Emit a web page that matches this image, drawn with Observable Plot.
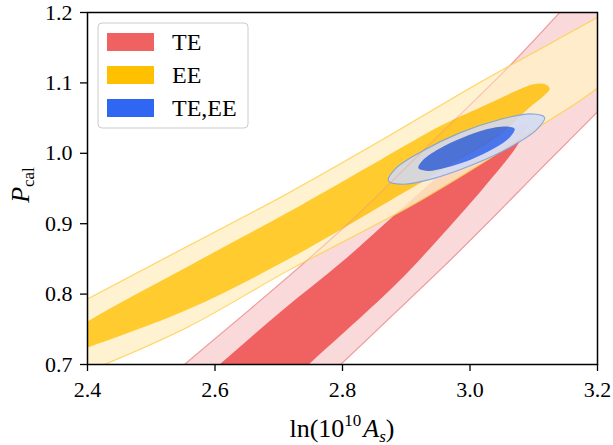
<!DOCTYPE html>
<html><head><meta charset="utf-8">
<script src="https://cdn.jsdelivr.net/npm/d3@7"></script>
<script src="https://cdn.jsdelivr.net/npm/@observablehq/plot@0.6"></script>
<style>
body{margin:0;background:#fff;}
#chart svg, #chart svg text{font-family:"Liberation Serif",serif !important;}
g[aria-description="EE fill"], g[aria-description="EE line"], g[aria-description="TEEE fill"], g[aria-description="TEEE line"]{opacity:0.85;}
g[aria-description="TE over"]{opacity:0.45;}
g[aria-description="EE over"]{opacity:0.3;}
g[aria-label="x-axis tick"], g[aria-label="y-axis tick"]{stroke-width:1.3;}
</style></head><body><div id="chart"></div>
<script>
// axis ticks
const xTicks = [2.4, 2.6, 2.8, 3.0, 3.2];
const yTicks = [0.7, 0.8, 0.9, 1.0, 1.1, 1.2];
const legendLabels = ["TE", "EE", "TE,EE"];

// TE contours
const teOuterX = [2.486, 2.552, 2.632, 2.714, 2.817, 2.922, 3.064, 3.140, 3.167, 3.300, 3.300, 3.252, 3.200, 3.111, 3.032, 2.954, 2.875, 2.797, 2.737];
const teOuterY = [0.650, 0.700, 0.761, 0.824, 0.907, 1.000, 1.126, 1.199, 1.224, 1.231, 1.156, 1.109, 1.059, 0.978, 0.905, 0.835, 0.767, 0.700, 0.650];
const teInnerX = [2.543, 2.607, 2.703, 2.802, 2.907, 2.985, 3.056, 3.090, 3.074, 3.024, 2.977, 2.886, 2.747, 2.687];
const teInnerY = [0.650, 0.700, 0.775, 0.848, 0.933, 0.993, 1.032, 1.041, 1.011, 0.954, 0.905, 0.816, 0.700, 0.650];

// EE contours
const eeOuterX = [2.342, 2.400, 2.557, 2.714, 2.860, 3.016, 3.200, 3.267, 3.283, 3.200, 3.111, 2.922, 2.714, 2.557, 2.400, 2.342];
const eeOuterY = [0.765, 0.793, 0.868, 0.943, 1.018, 1.101, 1.193, 1.228, 1.167, 1.093, 1.039, 0.933, 0.833, 0.753, 0.690, 0.670];
const eeInnerX = [2.311, 2.400, 2.557, 2.714, 2.860, 2.954, 3.016, 3.071, 3.100, 3.118, 3.125, 3.115, 3.092, 3.048, 2.969, 2.875, 2.714, 2.557, 2.400, 2.358];
const eeInnerY = [0.706, 0.761, 0.839, 0.916, 0.991, 1.039, 1.065, 1.088, 1.098, 1.098, 1.092, 1.081, 1.064, 1.027, 0.983, 0.933, 0.849, 0.778, 0.724, 0.711];

// TE,EE contours
const bothOuterX = [3.117, 3.105, 3.064, 3.005, 2.942, 2.894, 2.872, 2.884, 2.925, 2.984, 3.047, 3.095];
const bothOuterY = [1.051, 1.034, 1.009, 0.984, 0.964, 0.956, 0.961, 0.979, 1.003, 1.029, 1.048, 1.056];
const bothInnerX = [3.070, 3.063, 3.038, 3.001, 2.963, 2.933, 2.919, 2.926, 2.951, 2.988, 3.026, 3.056];
const bothInnerY = [1.035, 1.023, 1.007, 0.991, 0.980, 0.975, 0.979, 0.990, 1.006, 1.022, 1.034, 1.038];

const colors = {
  TE:   {outer: "#fad9da", inner: "#f06262", line: "#ef9e9e", legend: "#f06262"},
  EE:   {outer: "#fff0c8", inner: "#ffc30a", line: "#ffd35a", legend: "#ffc000"},
  TEEE: {outer: "#d1dbf8", inner: "#2d64f5", line: "#7c9de0", legend: "#3067f2"}
};

const rows = (set, level, xs, ys) => xs.map((x, i) => ({set, level, x, y: ys[i]}));
const te = [...rows("TE", "outer", teOuterX, teOuterY), ...rows("TE", "inner", teInnerX, teInnerY)];
const ee = [...rows("EE", "outer", eeOuterX, eeOuterY), ...rows("EE", "inner", eeInnerX, eeInnerY)];
const both = [...rows("TEEE", "outer", bothOuterX, bothOuterY), ...rows("TEEE", "inner", bothInnerX, bothInnerY)];

function fillMark(data, name) {
  return Plot.line(data, {x: "x", y: "y", z: "level", fill: d => colors[d.set][d.level], stroke: "none",
    curve: "catmull-rom-closed", clip: true, ariaDescription: name + " fill"});
}
function lineMark(data, name, tag) {
  return Plot.line(data.filter(d => d.level === "outer"), {x: "x", y: "y", stroke: colors[name].line, strokeWidth: 1.1,
    fill: "none", curve: "catmull-rom-closed", clip: true, ariaDescription: name + " " + tag});
}

const plot = Plot.plot({
  width: 613, height: 445,
  marginLeft: 87, marginRight: 16, marginTop: 12, marginBottom: 81,
  style: {fontSize: "22px", fontFamily: "Liberation Serif, serif", color: "black", background: "white"},
  color: {type: "identity"},
  x: {domain: [2.4, 3.2], ticks: xTicks, tickFormat: d => d.toFixed(1), tickSize: 7, tickPadding: 10, label: null},
  y: {domain: [0.7, 1.2], ticks: yTicks, tickFormat: d => d.toFixed(1), tickSize: 7, tickPadding: 8, label: null},
  marks: [
    fillMark(te, "TE"), lineMark(te, "TE", "line"),
    fillMark(ee, "EE"), lineMark(ee, "EE", "line"),
    fillMark(both, "TEEE"),
    lineMark(te, "TE", "over"), lineMark(ee, "EE", "over"),
    lineMark(both, "TEEE", "line"),
    Plot.frame({stroke: "black", strokeWidth: 1.5})
  ]
});
document.getElementById("chart").appendChild(plot);

const svg = d3.select(plot);
svg.selectAll("g[aria-label='x-axis tick label'] text, g[aria-label='y-axis tick label'] text")
  .style("font-family", "'Liberation Serif', serif").style("font-size", "22px");
// x label
const xl = svg.append("text").attr("x", 342).attr("y", 437).attr("text-anchor", "middle")
  .attr("font-size", 26).attr("fill", "black");
xl.append("tspan").text("ln(10");
xl.append("tspan").attr("font-size", 17).attr("dy", -11).text("10");
xl.append("tspan").attr("font-style", "italic").attr("dy", 11).attr("dx", 2).text("A");
xl.append("tspan").attr("font-style", "italic").attr("font-size", 17).attr("dy", 5).text("s");
xl.append("tspan").attr("dy", -5).text(")");
// y label
const yl = svg.append("text").attr("transform", "translate(29,185) rotate(-90)").attr("text-anchor", "middle")
  .attr("font-size", 26).attr("fill", "black");
yl.append("tspan").attr("font-style", "italic").text("P");
yl.append("tspan").attr("font-size", 17).attr("dy", 5).text("cal");

// legend
const lg = svg.append("g");
lg.append("rect").attr("x", 98).attr("y", 23).attr("width", 150).attr("height", 105).attr("rx", 4)
  .attr("fill", "white").attr("fill-opacity", 0.8).attr("stroke", "#cccccc").attr("stroke-width", 1);
const keys = ["TE", "EE", "TEEE"];
const tops = [33, 66, 99];
legendLabels.forEach((lab, i) => {
  lg.append("rect").attr("x", 107).attr("y", tops[i]).attr("width", 47).attr("height", 18)
    .attr("fill", colors[keys[i]].legend);
  lg.append("text").attr("x", 172).attr("y", tops[i] + 17).attr("text-anchor", "start")
    .attr("font-size", 24).attr("fill", "black").text(lab);
});
</script></body></html>
